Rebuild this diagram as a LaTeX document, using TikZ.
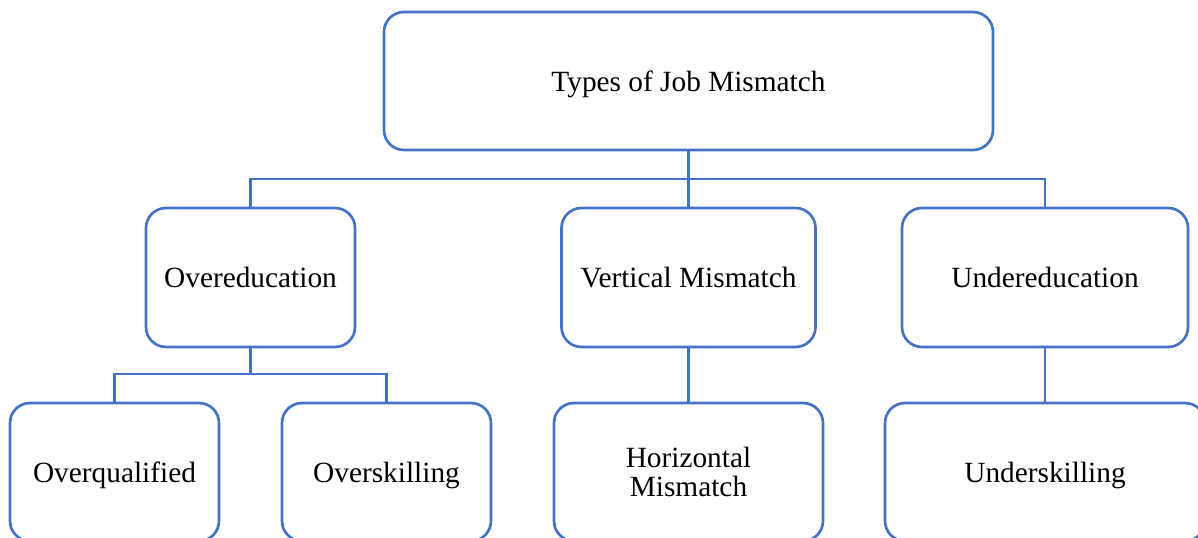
\documentclass[tikz,border=0pt]{standalone}
\usepackage{fontspec}
\setmainfont{Liberation Serif}
\usepackage{tikz}
\usetikzlibrary{calc, backgrounds}
\definecolor{boxblue}{HTML}{4472C4}
\pgfdeclarelayer{background}
\pgfsetlayers{background,main}

\begin{document}
\begin{tikzpicture}[x=0.75pt, y=-0.75pt]

    % Page frame
    \useasboundingbox (0, 0) rectangle (1198, 537);
    \clip (0, 0) rectangle (1198, 537);

    % Box styles
    \tikzset{tB/.style={draw=boxblue, line width = 2pt, rounded corners = 15pt, fill = white, inner sep = 0pt, text depth = 0pt, align = center, font = \fontsize{22}{22}\selectfont}}
    \tikzset{rootB/.style={tB, minimum width = 456.75pt, minimum height = 103.5pt}}
    \tikzset{midB/.style={tB, minimum height = 104.25pt}}
    \tikzset{leafB/.style={tB, minimum height = 103.5pt}}

    % Connector style
    \tikzset{cL/.style={draw=boxblue, line width = 2pt}}

    % Tree nodes
    \node (root) [rootB] at (688.5, 81) {Types of Job Mismatch};
    	\coordinate (jr) at (688.5, 179);
    		\node (over) [midB, minimum width = 156.75pt] at (250.5, 277.5) {Overeducation};
    			\coordinate (jo) at (250.5, 374);
    				\node (oqual) [leafB, minimum width = 156.75pt] at (114.5, 472) {Overqualified};
    				\node (oskill) [leafB, minimum width = 156.75pt] at (386.5, 472) {Overskilling};
    		\node (vert) [midB, minimum width = 190.5pt] at (688.5, 277.5) {Vertical Mismatch};
    			\node (horiz) [leafB, minimum width = 201.75pt] at (688.5, 472) {Horizontal\\Mismatch};
    		\node (under) [midB, minimum width = 214.5pt] at (1045, 277.5) {Undereducation};
    			\node (uskill) [leafB, minimum width = 240pt] at (1045, 472) {Underskilling};

    % Connectors behind the boxes
    \begin{pgfonlayer}{background}

    	\path[cL] (root) -- (jr);
    		\path[cL] (jr) -| (over);
    		\path[cL] (jr) -- (vert);
    		\path[cL] (jr) -| (under);
    	\path[cL] (over) -- (jo);
    		\path[cL] (jo) -| (oqual);
    		\path[cL] (jo) -| (oskill);
    	\path[cL] (vert) -- (horiz);
    	\path[cL] (under) -- (uskill);

    \end{pgfonlayer}

\end{tikzpicture}
\end{document}
